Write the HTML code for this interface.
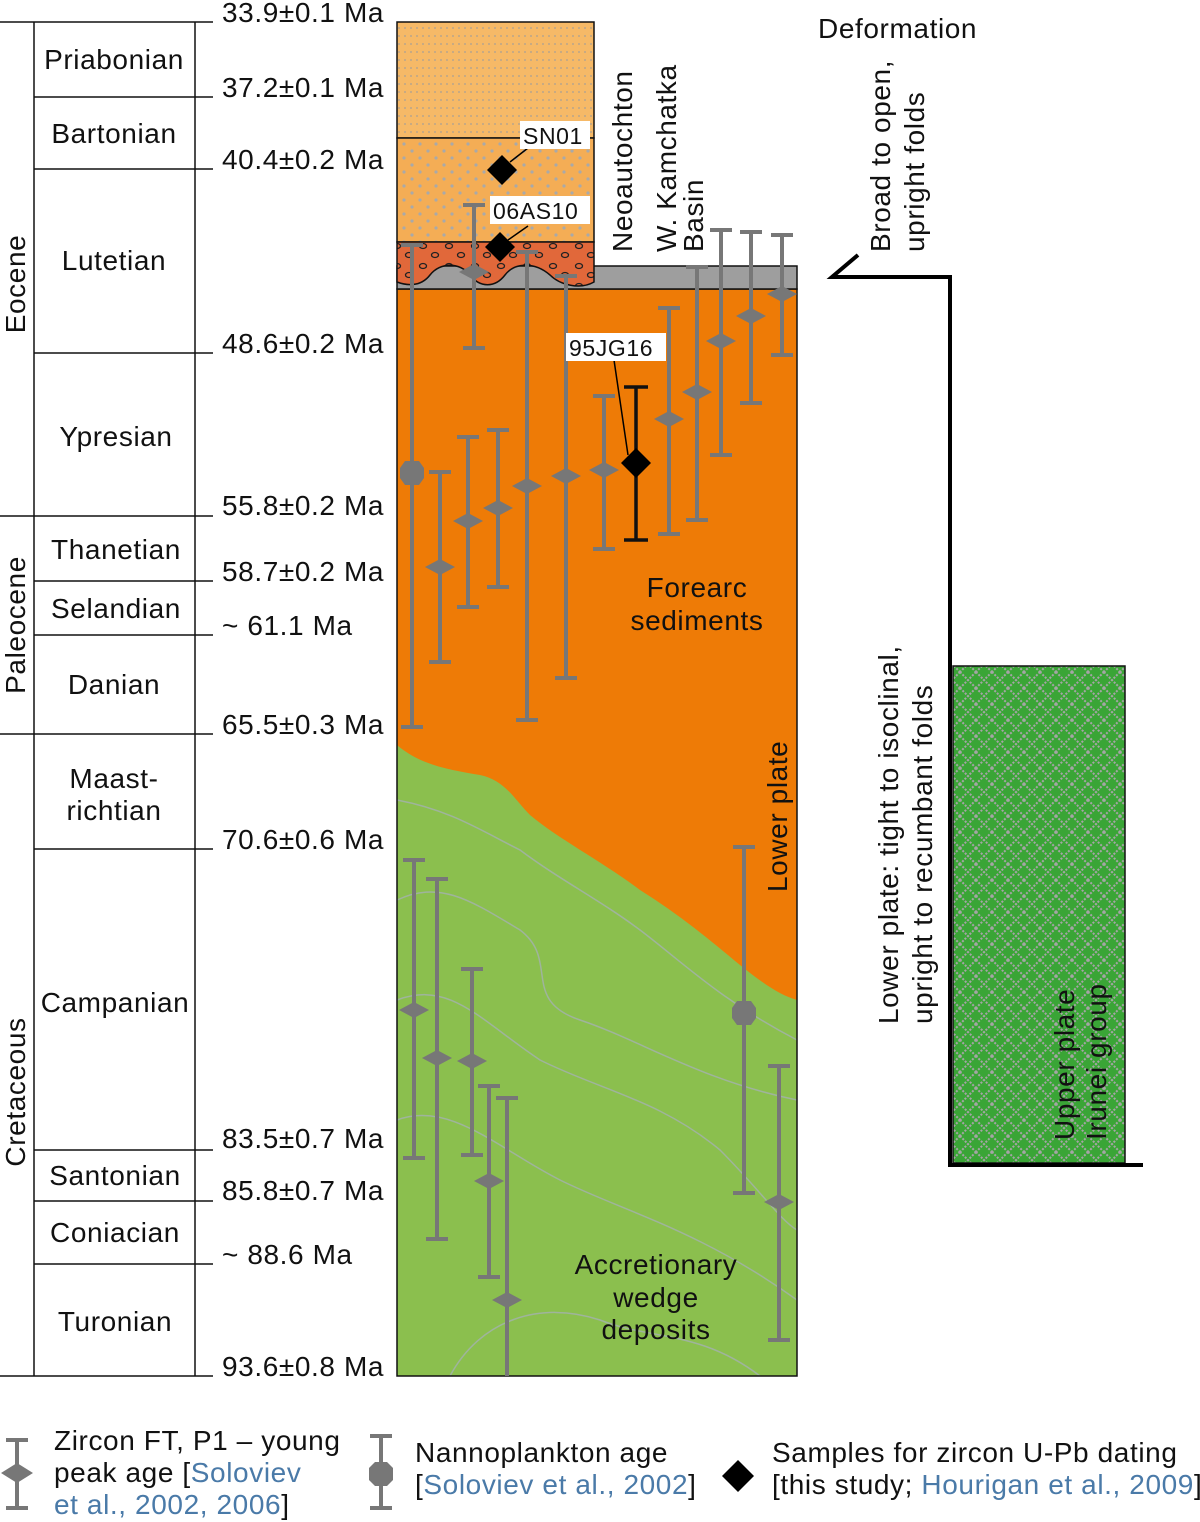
<!DOCTYPE html>
<html><head><meta charset="utf-8"><style>body{margin:0;background:#fff}svg{display:block}text{font-family:"Liberation Sans",sans-serif;fill:#111;letter-spacing:0.6px}</style></head>
<body>
<svg width="1200" height="1522" viewBox="0 0 1200 1522" xmlns="http://www.w3.org/2000/svg">
<defs>
<pattern id="dots1" width="12" height="8" patternUnits="userSpaceOnUse"><rect width="12" height="8" fill="#f6b967"/><circle cx="3" cy="4" r="1" fill="#b9a58a"/><circle cx="9" cy="4" r="1" fill="#b9a58a"/></pattern>
<pattern id="dots2" width="16" height="14" patternUnits="userSpaceOnUse"><rect width="16" height="14" fill="#f4ad55"/><circle cx="4" cy="4" r="1.6" fill="#a9a9a9"/><circle cx="12" cy="11" r="1.6" fill="#a9a9a9"/></pattern>
<pattern id="circ" width="26" height="20" patternUnits="userSpaceOnUse"><rect width="26" height="20" fill="#e1683a"/><ellipse cx="7" cy="6" rx="3.5" ry="2.5" fill="none" stroke="#222" stroke-width="1.3"/><ellipse cx="19" cy="15" rx="3.5" ry="2.5" fill="none" stroke="#222" stroke-width="1.3"/></pattern>
<pattern id="hatch" width="16" height="16" patternUnits="userSpaceOnUse"><rect width="16" height="16" fill="#3aa536"/><path d="M0 0L16 16M16 0L0 16" stroke="#a5a5a5" stroke-width="2" stroke-dasharray="2 1.5"/></pattern>
</defs>
<g stroke="#111" stroke-width="1.5" fill="none">
<line x1="34" y1="22" x2="34" y2="1376"/><line x1="195" y1="22" x2="195" y2="1376"/>
<line x1="0" y1="22" x2="213" y2="22"/><line x1="34" y1="97" x2="213" y2="97"/><line x1="34" y1="169" x2="213" y2="169"/><line x1="34" y1="353" x2="213" y2="353"/>
<line x1="0" y1="516" x2="213" y2="516"/><line x1="34" y1="581" x2="213" y2="581"/><line x1="34" y1="635" x2="213" y2="635"/><line x1="0" y1="734" x2="213" y2="734"/>
<line x1="34" y1="849" x2="213" y2="849"/><line x1="34" y1="1150" x2="213" y2="1150"/><line x1="34" y1="1201" x2="213" y2="1201"/><line x1="34" y1="1264" x2="213" y2="1264"/><line x1="0" y1="1376" x2="213" y2="1376"/>
</g>
<g font-size="28" text-anchor="middle">
<text x="114" y="69">Priabonian</text><text x="114" y="143">Bartonian</text><text x="114" y="270">Lutetian</text><text x="116" y="446">Ypresian</text>
<text x="116" y="559">Thanetian</text><text x="116" y="618">Selandian</text><text x="114" y="694">Danian</text>
<text x="114" y="788">Maast-</text><text x="114" y="820">richtian</text><text x="115" y="1012">Campanian</text>
<text x="115" y="1185">Santonian</text><text x="115" y="1242">Coniacian</text><text x="115" y="1331">Turonian</text>
<text transform="translate(25,284) rotate(-90)">Eocene</text>
<text transform="translate(25,625) rotate(-90)">Paleocene</text>
<text transform="translate(25,1092) rotate(-90)">Cretaceous</text>
</g>
<g font-size="28">
<text x="222" y="22">33.9±0.1 Ma</text><text x="222" y="97">37.2±0.1 Ma</text><text x="222" y="169">40.4±0.2 Ma</text><text x="222" y="353">48.6±0.2 Ma</text>
<text x="222" y="515">55.8±0.2 Ma</text><text x="222" y="581">58.7±0.2 Ma</text><text x="222" y="635">~ 61.1 Ma</text><text x="222" y="734">65.5±0.3 Ma</text>
<text x="222" y="849">70.6±0.6 Ma</text><text x="222" y="1148">83.5±0.7 Ma</text><text x="222" y="1200">85.8±0.7 Ma</text><text x="222" y="1264">~ 88.6 Ma</text><text x="222" y="1376">93.6±0.8 Ma</text>
</g>
<rect x="397" y="289" width="400" height="1087" fill="#ee7b06"/>
<path d="M397 745 C420 765 450 770 480 775 C505 780 515 800 530 815 C560 840 600 860 640 890 C680 915 710 940 740 965 C765 985 780 995 797 1000 L797 1376 L397 1376Z" fill="#8bbf4e"/>
<g fill="none" stroke="#9fb49c" stroke-width="1.5">
<path d="M397 800 C450 810 480 830 520 850 C560 880 600 900 640 930 C680 960 720 1000 797 1040"/>
<path d="M397 900 C440 880 470 900 520 930 C560 960 520 1000 580 1020 C640 1040 700 1080 797 1100"/>
<path d="M397 1000 C450 980 480 1020 540 1060 C600 1090 660 1100 720 1150 C760 1190 780 1220 797 1230"/>
<path d="M397 1120 C450 1100 500 1150 560 1180 C620 1210 700 1230 797 1300"/>
<path d="M450 1376 C480 1320 540 1300 600 1320 C650 1340 700 1330 760 1376"/>
</g>
<rect x="397" y="289" width="400" height="1087" fill="none" stroke="#111" stroke-width="1.5"/>
<rect x="397" y="266" width="400" height="23" fill="#9e9e9e" stroke="#111" stroke-width="1.5"/>
<rect x="397" y="22" width="197" height="116" fill="url(#dots1)" stroke="#111" stroke-width="1.5"/>
<rect x="397" y="138" width="197" height="104" fill="url(#dots2)" stroke="#111" stroke-width="1.5"/>
<path d="M397 242 L594 242 L594 282 C580 290 560 285 550 275 C535 262 515 262 505 275 C495 288 480 288 470 275 C460 262 440 262 430 275 C420 288 405 285 397 282Z" fill="url(#circ)" stroke="#111" stroke-width="1.5"/>
<g stroke="#777" stroke-width="4" fill="#777">
<path d="M412 245V727M401 245h22M401 727h22"/>
<path d="M474 205V348M463 205h22M463 348h22"/>
<path d="M440 472V662M429 472h22M429 662h22"/>
<path d="M468 437V607M457 437h22M457 607h22"/>
<path d="M498 430V587M487 430h22M487 587h22"/>
<path d="M527 252V720M516 252h22M516 720h22"/>
<path d="M566 276V678M555 276h22M555 678h22"/>
<path d="M604 396V549M593 396h22M593 549h22"/>
<path d="M669 308V534M658 308h22M658 534h22"/>
<path d="M697 267V520M686 267h22M686 520h22"/>
<path d="M721 230V455M710 230h22M710 455h22"/>
<path d="M751 232V403M740 232h22M740 403h22"/>
<path d="M782 235V355M771 235h22M771 355h22"/>
<path d="M414 860V1158M403 860h22M403 1158h22"/>
<path d="M437 879V1239M426 879h22M426 1239h22"/>
<path d="M472 969V1155M461 969h22M461 1155h22"/>
<path d="M489 1086V1277M478 1086h22M478 1277h22"/>
<path d="M507 1098V1376M496 1098h22"/>
<path d="M744 847V1193M733 847h22M733 1193h22"/>
<path d="M779 1066V1340M768 1066h22M768 1340h22"/>
</g>
<g fill="#777">
<path d="M459 272l15-8 15 8-15 8z"/><path d="M425 567l15-8 15 8-15 8z"/><path d="M453 521l15-8 15 8-15 8z"/><path d="M483 508l15-8 15 8-15 8z"/>
<path d="M512 486l15-8 15 8-15 8z"/><path d="M551 476l15-8 15 8-15 8z"/><path d="M589 470l15-8 15 8-15 8z"/><path d="M654 419l15-8 15 8-15 8z"/>
<path d="M682 392l15-8 15 8-15 8z"/><path d="M706 341l15-8 15 8-15 8z"/><path d="M736 316l15-8 15 8-15 8z"/><path d="M767 294l15-8 15 8-15 8z"/>
<path d="M399 1010l15-8 15 8-15 8z"/><path d="M422 1058l15-8 15 8-15 8z"/><path d="M457 1061l15-8 15 8-15 8z"/><path d="M474 1181l15-8 15 8-15 8z"/>
<path d="M492 1300l15-8 15 8-15 8z"/><path d="M764 1202l15-8 15 8-15 8z"/>
<polygon points="405,461 419,461 424,468 424,478 419,485 405,485 400,478 400,468"/>
<polygon points="737,1001 751,1001 756,1008 756,1018 751,1025 737,1025 732,1018 732,1008"/>
</g>
<g stroke="#111" stroke-width="3.5"><path d="M636 387V540M624 387h24M624 540h24"/></g>
<path d="M636 448l15 15-15 15-15-15z" fill="#000"/>
<path d="M502 155l15 15-15 15-15-15z" fill="#000"/>
<path d="M500 232l15 15-15 15-15-15z" fill="#000"/>
<g stroke="#000" stroke-width="1.5" fill="none"><path d="M510 162L528 148"/><path d="M508 240L528 226"/><path d="M628 455L614 360"/></g>
<rect x="520" y="121" width="70" height="28" fill="#fff"/><text x="523" y="144" font-size="23">SN01</text>
<rect x="490" y="196" width="100" height="28" fill="#fff"/><text x="493" y="219" font-size="23">06AS10</text>
<rect x="566" y="333" width="100" height="28" fill="#fff"/><text x="569" y="356" font-size="23">95JG16</text>
<g font-size="28">
<text transform="translate(632,252) rotate(-90)">Neoautochton</text>
<text transform="translate(676,252) rotate(-90)">W. Kamchatka</text>
<text transform="translate(703,252) rotate(-90)">Basin</text>
<text x="697" y="597" text-anchor="middle">Forearc</text><text x="697" y="630" text-anchor="middle">sediments</text>
<text transform="translate(787,892) rotate(-90)">Lower plate</text>
<text x="656" y="1274" text-anchor="middle">Accretionary</text><text x="656" y="1307" text-anchor="middle">wedge</text><text x="656" y="1339" text-anchor="middle">deposits</text>
<text x="818" y="38">Deformation</text>
<text transform="translate(890,252) rotate(-90)">Broad to open,</text>
<text transform="translate(924,252) rotate(-90)">upright folds</text>
<text transform="translate(898,1024) rotate(-90)">Lower plate: tight to isoclinal,</text>
<text transform="translate(932,1024) rotate(-90)">upright to recumbant folds</text>
</g>
<rect x="953" y="666" width="172" height="497" fill="url(#hatch)" stroke="#111" stroke-width="1.5"/>
<polyline points="858,255 832,277 950,277 950,1165 1143,1165" fill="none" stroke="#000" stroke-width="4"/>
<g font-size="28"><text transform="translate(1074,1140) rotate(-90)">Upper plate</text><text transform="translate(1106,1140) rotate(-90)">Irunei group</text></g>
<g stroke="#777" stroke-width="4"><path d="M17 1440V1508M6 1440h22M6 1508h22M381 1436V1508M370 1436h22M370 1508h22"/></g>
<path d="M1 1473l16-10 16 10-16 10z" fill="#777"/>
<polygon points="375,1462 387,1462 393,1468 393,1480 387,1486 375,1486 369,1480 369,1468" fill="#777"/>
<path d="M738 1460l16 16-16 16-16-16z" fill="#000"/>
<g font-size="28">
<text x="54" y="1450">Zircon FT, P1 – young</text>
<text x="54" y="1482">peak age [<tspan fill="#4a7aa8">Soloviev</tspan></text>
<text x="54" y="1514"><tspan fill="#4a7aa8">et al., 2002, 2006</tspan>]</text>
<text x="415" y="1462">Nannoplankton age</text>
<text x="415" y="1494">[<tspan fill="#4a7aa8">Soloviev et al., 2002</tspan>]</text>
<text x="772" y="1462">Samples for zircon U-Pb dating</text>
<text x="772" y="1494">[this study; <tspan fill="#4a7aa8">Hourigan et al., 2009</tspan>]</text>
</g>
</svg>
</body></html>
